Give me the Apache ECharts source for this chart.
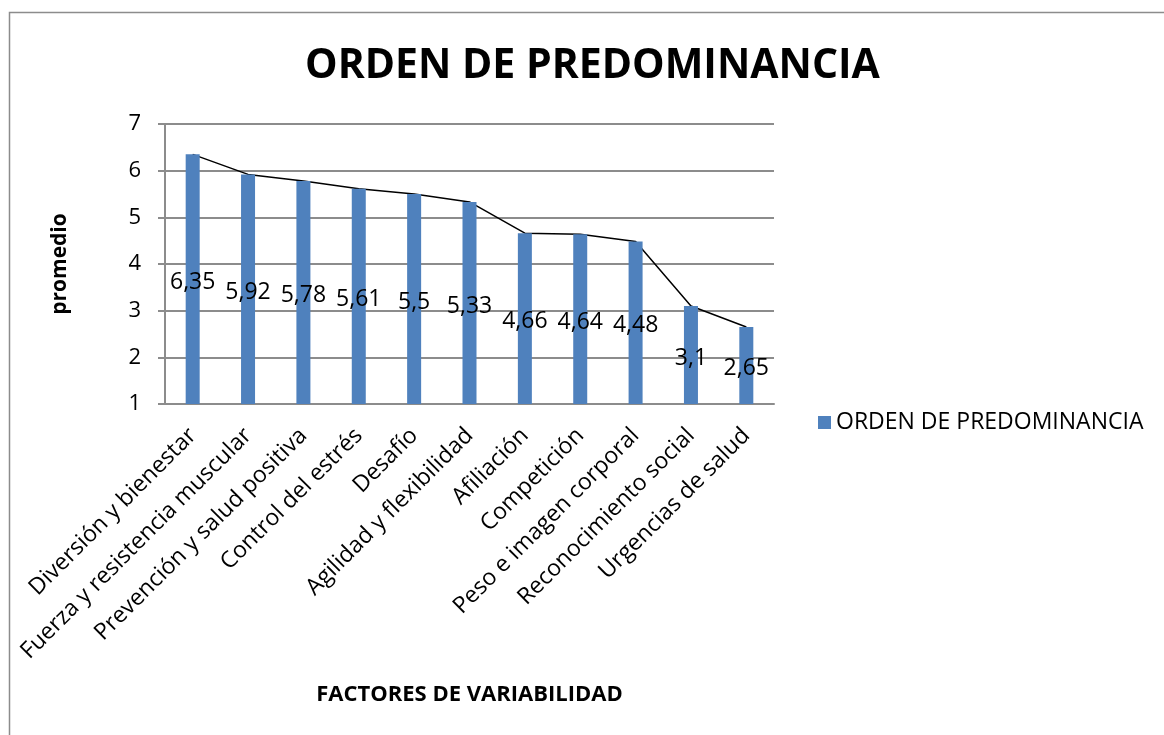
<!DOCTYPE html>
<html>
<head>
<meta charset="utf-8">
<script src="https://cdn.jsdelivr.net/npm/echarts@6/dist/echarts.min.js"></script>
<style>
  html, body { margin: 0; padding: 0; background: #fff; }
  #main { width: 1164px; height: 735px; }
</style>
</head>
<body>
<div id="main"></div>
<script>
var categories = ['Diversión y bienestar', 'Fuerza y resistencia muscular', 'Prevención y salud positiva',
    'Control del estrés', 'Desafío', 'Agilidad y flexibilidad', 'Afiliación', 'Competición',
    'Peso e imagen corporal', 'Reconocimiento social', 'Urgencias de salud'];
var promedios = [6.35, 5.92, 5.78, 5.61, 5.5, 5.33, 4.66, 4.64, 4.48, 3.1, 2.65];
var yTicks = { min: 1, max: 7, step: 1 };

var chartDom = document.getElementById('main');
var myChart = echarts.init(chartDom);
var font = "'Open Sans', 'Noto Sans', sans-serif";
var option;

option = {
    animation: false,
    textStyle: { fontFamily: font },
    title: {
        text: 'ORDEN DE PREDOMINANCIA',
        left: 300,
        top: 41,
        textStyle: { fontSize: 41, fontWeight: 'bold', color: '#000', fontFamily: font }
    },
    legend: {
        data: ['ORDEN DE PREDOMINANCIA'],
        left: 813,
        top: 406,
        icon: 'rect',
        itemWidth: 13,
        itemHeight: 13,
        itemGap: 8,
        textStyle: { fontSize: 23, color: '#000', fontFamily: font }
    },
    graphic: [{
        type: 'rect',
        shape: { x: 9.5, y: 12.5, width: 1200, height: 800 },
        style: { fill: 'none', stroke: '#8c8c8c', lineWidth: 1.5 },
        silent: true
    }],
    grid: {
        left: 165,
        right: 390,
        top: 124,
        bottom: 331
    },
    xAxis: {
        type: 'category',
        data: categories,
        name: 'FACTORES DE VARIABILIDAD',
        nameLocation: 'middle',
        nameGap: 280,
        nameTextStyle: { fontSize: 22, fontWeight: 'bold', color: '#000' },
        axisLine: { lineStyle: { color: '#8c8c8c', width: 2 } },
        axisTick: { show: false },
        axisLabel: { interval: 0, rotate: 45, fontSize: 23, color: '#000', margin: 28 }
    },
    yAxis: {
        type: 'value',
        min: yTicks.min,
        max: yTicks.max,
        interval: yTicks.step,
        name: 'promedio',
        nameLocation: 'middle',
        nameGap: 94,
        nameRotate: 90,
        nameTextStyle: { fontSize: 21, fontWeight: 'bold', color: '#000' },
        axisLine: { show: true, lineStyle: { color: '#8c8c8c', width: 2 } },
        axisTick: { show: true, length: 7, lineStyle: { color: '#8c8c8c', width: 2 } },
        splitLine: { lineStyle: { color: '#8c8c8c', width: 2 } },
        axisLabel: { fontSize: 22, color: '#000', margin: 24 }
    },
    series: [{
        name: 'tendencia',
        type: 'line',
        data: promedios,
        symbol: 'none',
        z: 1,
        lineStyle: { color: '#000', width: 1.5 },
        silent: true
    }, {
        name: 'ORDEN DE PREDOMINANCIA',
        type: 'bar',
        data: promedios,
        barWidth: 14,
        z: 3,
        itemStyle: { color: '#4F81BD' },
        label: {
            show: true,
            position: 'inside',
            offset: [0, 3],
            fontSize: 23,
            color: '#000',
            formatter: function (p) { return String(p.value).replace('.', ','); }
        }
    }]
};
option && myChart.setOption(option);
</script>
</body>
</html>
